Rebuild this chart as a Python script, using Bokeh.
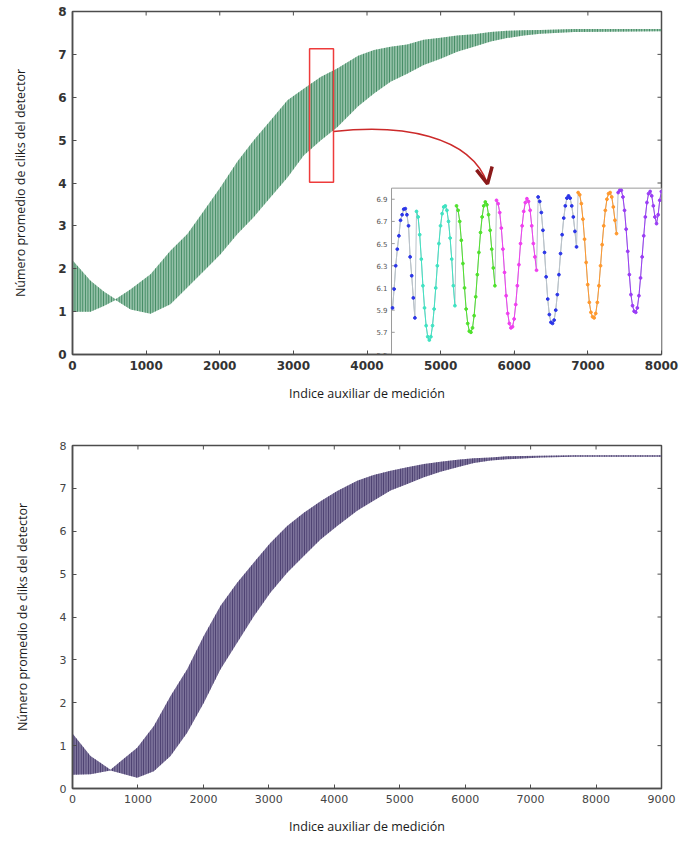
import numpy as np
from bokeh.plotting import figure
from bokeh.layouts import column
from bokeh.models import (Range1d, FixedTicker, BoxAnnotation, Label, Arrow, OpenHead)
from bokeh.embed import file_html
from bokeh.resources import INLINE
from bokeh.core.properties import value

# ---------------- data: panel (a) envelope of the oscillating signal ----------------
a_x = [0, 245, 425, 585, 790, 1060, 1330, 1560, 1785, 2010, 2240, 2460, 2690, 2920,
       3140, 3370, 3595, 3880, 4095, 4320, 4545, 4770, 5000, 5225, 5450, 5680, 5900,
       6130, 6355, 6810, 7260, 8000]
a_upper = [2.20, 1.72, 1.47, 1.29, 1.52, 1.87, 2.42, 2.81, 3.35, 3.90, 4.50, 4.99, 5.46, 5.93,
           6.20, 6.47, 6.67, 6.97, 7.10, 7.18, 7.23, 7.34, 7.39, 7.44, 7.47, 7.52, 7.55,
           7.56, 7.57, 7.59, 7.59, 7.59]
a_lower = [1.00, 1.00, 1.13, 1.27, 1.05, 0.95, 1.17, 1.56, 1.95, 2.34, 2.81, 3.20, 3.67, 4.13,
           4.64, 4.99, 5.30, 5.79, 6.09, 6.36, 6.55, 6.75, 6.90, 7.06, 7.18, 7.30, 7.38,
           7.44, 7.48, 7.52, 7.53, 7.54]

# ---------------- data: panel (b) envelope ----------------
b_x = [0, 275, 580, 988, 1243, 1498, 1752, 2007, 2262, 2516, 2771, 3026, 3280, 3535,
       3790, 4045, 4350, 4600, 4860, 5115, 5370, 5623, 5880, 6133, 6390, 6640, 7150,
       7660, 9000]
b_upper = [1.28, 0.76, 0.44, 0.95, 1.46, 2.16, 2.78, 3.56, 4.26, 4.80, 5.27, 5.73, 6.12, 6.43,
           6.70, 6.94, 7.18, 7.31, 7.41, 7.49, 7.57, 7.62, 7.67, 7.70, 7.72, 7.75, 7.76,
           7.77, 7.77]
b_lower = [0.32, 0.33, 0.42, 0.25, 0.40, 0.76, 1.30, 2.00, 2.78, 3.40, 4.02, 4.57, 5.03, 5.42,
           5.81, 6.12, 6.48, 6.71, 6.95, 7.10, 7.26, 7.39, 7.49, 7.59, 7.65, 7.68, 7.72,
           7.74, 7.74]

# ---------------- data: inset (zoom of the measured points), one list per run ----------------
inset_blue1 = [5.92, 6.09, 6.30, 6.45, 6.57, 6.71, 6.76, 6.81, 6.815, 6.76, 6.66, 6.38, 6.21, 6.01, 5.83]
inset_cyan = [6.79, 6.74, 6.58, 6.36, 6.12, 5.92, 5.76, 5.66, 5.63, 5.66, 5.76, 5.91, 6.10, 6.30,
              6.50, 6.66, 6.77, 6.83, 6.84, 6.80, 6.70, 6.55, 6.36, 6.12, 5.94]
inset_green = [6.84, 6.80, 6.70, 6.53, 6.32, 6.10, 5.91, 5.78, 5.71, 5.70, 5.74, 5.85, 6.02, 6.22,
               6.42, 6.60, 6.74, 6.84, 6.875, 6.85, 6.76, 6.62, 6.45, 6.28, 6.12]
inset_magenta = [6.89, 6.86, 6.78, 6.64, 6.45, 6.24, 6.03, 5.87, 5.78, 5.74, 5.75, 5.82, 5.95, 6.12,
                 6.31, 6.50, 6.66, 6.79, 6.87, 6.905, 6.88, 6.80, 6.66, 6.50, 6.38, 6.26]
inset_blue2 = [6.92, 6.88, 6.78, 6.62, 6.42, 6.20, 6.00, 5.86, 5.79, 5.78, 5.81, 5.90, 6.04, 6.22,
               6.41, 6.58, 6.73, 6.84, 6.91, 6.93, 6.91, 6.84, 6.74, 6.61, 6.47]
inset_orange = [6.96, 6.94, 6.86, 6.72, 6.54, 6.33, 6.13, 5.97, 5.88, 5.84, 5.83, 5.87, 5.97, 6.12,
                6.30, 6.49, 6.66, 6.80, 6.90, 6.95, 6.96, 6.92, 6.83, 6.71, 6.59]
inset_purple = [6.96, 6.98, 6.98, 6.92, 6.80, 6.63, 6.43, 6.22, 6.04, 5.94, 5.89, 5.88, 5.92, 6.03,
                6.19, 6.38, 6.57, 6.74, 6.87, 6.95, 6.97, 6.93, 6.84, 6.74, 6.68, 6.76, 6.89, 6.97]
inset_runs = [inset_blue1, inset_cyan, inset_green, inset_magenta, inset_blue2, inset_orange, inset_purple]
inset_colors = ["#2b35e8", "#3fe3c2", "#4fe22c", "#f03ef0", "#2b35e8", "#ff982c", "#9a3cf6"]
inset_line_colors = ["#b9c2c9", "#3fe3c2", "#4fe22c", "#f03ef0", "#b9c2c9", "#ff982c", "#9a3cf6"]
inset_yticks = [5.5, 5.7, 5.9, 6.1, 6.3, 6.5, 6.7, 6.9]
inset_y_range = (5.5, 7.0)
inset_xticks = [30, 76, 122]

# ticks
a_xticks = [0, 1000, 2000, 3000, 4000, 5000, 6000, 7000, 8000]
b_xticks = [0, 1000, 2000, 3000, 4000, 5000, 6000, 7000, 8000, 9000]
yticks = [0, 1, 2, 3, 4, 5, 6, 7, 8]

# zoom box and arrow (in panel-a data units)
zoom_box = dict(left=3220, right=3545, bottom=4.02, top=7.13)
arrow_curve = dict(x0=3545, y0=5.2, cx0=4455, cy0=5.38, cx1=5406, cy1=5.12, x1=5637, y1=3.98)
# inset placement in panel-a data units
inset_main_x = (4333, 8000)
inset_main_y = (0.0, 3.88)

GREEN = "#3a8c5e"
PURPLE = "#4b3d74"
AXIS_COL = "#4d4d4d"
FONT = "Open Sans"
FRAME_W, FRAME_H = 589, 343
TICK_PX = 4


def style(p, xticks, xmax, tick_font, tick_size, tick_weight):
    p.grid.visible = False
    p.outline_line_color = AXIS_COL
    p.outline_line_width = 1.5
    for ax in [p.xaxis[0], p.yaxis[0]]:
        ax.major_tick_in = TICK_PX
        ax.major_tick_out = 0
        ax.minor_tick_line_color = None
        ax.axis_line_color = AXIS_COL
        ax.axis_line_width = 1.5
        ax.major_tick_line_color = AXIS_COL
        ax.major_label_text_font = tick_font
        ax.major_label_text_font_size = tick_size
        ax.major_label_text_font_style = tick_weight
        ax.major_label_text_color = "#333333"
        ax.axis_label_text_font = FONT
        ax.axis_label_text_font_size = "12.5px"
        ax.axis_label_text_font_style = "normal"
        ax.axis_label_text_color = "#1a1a1a"
    p.xaxis[0].ticker = FixedTicker(ticks=xticks)
    p.yaxis[0].ticker = FixedTicker(ticks=yticks)
    p.xaxis[0].major_label_standoff = 6
    p.yaxis[0].major_label_standoff = 6
    p.xaxis[0].axis_label_standoff = 12
    p.yaxis[0].axis_label_standoff = 26
    # mirrored inward ticks on the top and right edges
    dy = TICK_PX * 8 / FRAME_H
    dx = TICK_PX * xmax / FRAME_W
    p.segment(x0=xticks, y0=[8] * len(xticks), x1=xticks, y1=[8 - dy] * len(xticks),
              line_color=AXIS_COL, line_width=1)
    p.segment(x0=[xmax] * len(yticks), y0=yticks, x1=[xmax - dx] * len(yticks), y1=yticks,
              line_color=AXIS_COL, line_width=1)


# ---------------- panel (a) ----------------
pa = figure(width=693, height=410, x_range=Range1d(0, 8000), y_range=Range1d(0, 8),
            output_backend="svg", toolbar_location=None,
            min_border_left=72, min_border_right=32, min_border_top=11, min_border_bottom=56,
            x_axis_label="Indice auxiliar de medición",
            y_axis_label="Número promedio de cliks del detector")

pa.varea(x=a_x, y1=a_lower, y2=a_upper, fill_color=GREEN, fill_alpha=0.55,
         hatch_pattern="|", hatch_color="#2f7d52", hatch_alpha=0.9, hatch_scale=2.6, hatch_weight=1)
style(pa, a_xticks, 8000, "DejaVu Sans", "12px", "bold")

# inset coordinate system mapped onto the panel
n_total = sum(len(r) for r in inset_runs)
ix0, ix1 = -0.625, n_total - 1 + 0.1
iy0, iy1 = inset_y_range
sx = (ix1 - ix0) / (inset_main_x[1] - inset_main_x[0])
sy = (iy1 - iy0) / (inset_main_y[1] - inset_main_y[0])
pa.extra_x_ranges = {"ins": Range1d(ix0 - inset_main_x[0] * sx, ix1 + (8000 - inset_main_x[1]) * sx)}
pa.extra_y_ranges = {"ins": Range1d(iy0 - inset_main_y[0] * sy, iy1 + (8 - inset_main_y[1]) * sy)}
kw = dict(x_range_name="ins", y_range_name="ins")

pa.quad(left=[ix0], right=[ix1], bottom=[iy0], top=[iy1], fill_color="white",
        line_color="#9a9a9a", line_width=1, **kw)
pa.segment(x0=[ix0] * len(inset_yticks), y0=inset_yticks,
           x1=[ix0 + 2] * len(inset_yticks), y1=inset_yticks, line_color="#9a9a9a", **kw)
pa.segment(x0=inset_xticks, y0=[iy0] * len(inset_xticks), x1=inset_xticks,
           y1=[iy0 + 0.02] * len(inset_xticks), line_color="#9a9a9a", **kw)
pa.text(x=[ix0] * len(inset_yticks), y=inset_yticks, text=[f"{t:.1f}" for t in inset_yticks],
        x_offset=-4, text_align="right", text_baseline="middle",
        text_font=value("DejaVu Sans"), text_font_size="7px", text_color="#555555", **kw)

all_x = list(range(n_total))
all_y = [v for r in inset_runs for v in r]
pa.line(all_x, all_y, line_color="#b9c2c9", line_width=1, **kw)
start = 0
for run, c, lc in zip(inset_runs, inset_colors, inset_line_colors):
    xs = list(range(start, start + len(run)))
    pa.line(xs, run, line_color=lc, line_width=1, **kw)
    pa.scatter(xs, run, size=2.8, fill_color=c, line_color=c, **kw)
    start += len(run)

pa.add_layout(BoxAnnotation(fill_alpha=0, line_color="#ee3b3b", line_alpha=1.0,
                            line_width=1.5, **zoom_box))
pa.bezier(x0=[arrow_curve["x0"]], y0=[arrow_curve["y0"]], x1=[arrow_curve["x1"]], y1=[arrow_curve["y1"]],
          cx0=[arrow_curve["cx0"]], cy0=[arrow_curve["cy0"]], cx1=[arrow_curve["cx1"]],
          cy1=[arrow_curve["cy1"]], line_color="#cc2a2a", line_width=1.5)
pa.add_layout(Arrow(end=OpenHead(size=16, line_color="#8b1a1a", line_width=3.5),
                    x_start=5580, y_start=4.456, x_end=arrow_curve["x1"], y_end=arrow_curve["y1"],
                    line_alpha=0))
pa.add_layout(Label(x=8000, y=0.33, x_offset=7, text="(a)", text_baseline="middle",
                    text_font=FONT, text_font_size="19px", text_color="#222222"))

# ---------------- panel (b) ----------------
pb = figure(width=693, height=431, x_range=Range1d(0, 9000), y_range=Range1d(0, 8),
            output_backend="svg", toolbar_location=None,
            min_border_left=72, min_border_right=32, min_border_top=35, min_border_bottom=53,
            x_axis_label="Indice auxiliar de medición",
            y_axis_label="Número promedio de cliks del detector")

pb.varea(x=b_x, y1=b_lower, y2=b_upper, fill_color=PURPLE, fill_alpha=0.72,
         hatch_pattern="|", hatch_color="#3a2e62", hatch_alpha=0.9, hatch_scale=2.4, hatch_weight=1)
style(pb, b_xticks, 9000, "DejaVu Sans", "11px", "normal")
pb.xaxis[0].major_label_text_color = "#444444"
pb.yaxis[0].major_label_text_color = "#444444"
pb.add_layout(Label(x=9000, y=0.35, x_offset=7, text="(b)", text_baseline="middle",
                    text_font=FONT, text_font_size="19px", text_color="#222222"))

layout = column(pa, pb, spacing=0)
open("out.html", "w").write(file_html(layout, INLINE))
